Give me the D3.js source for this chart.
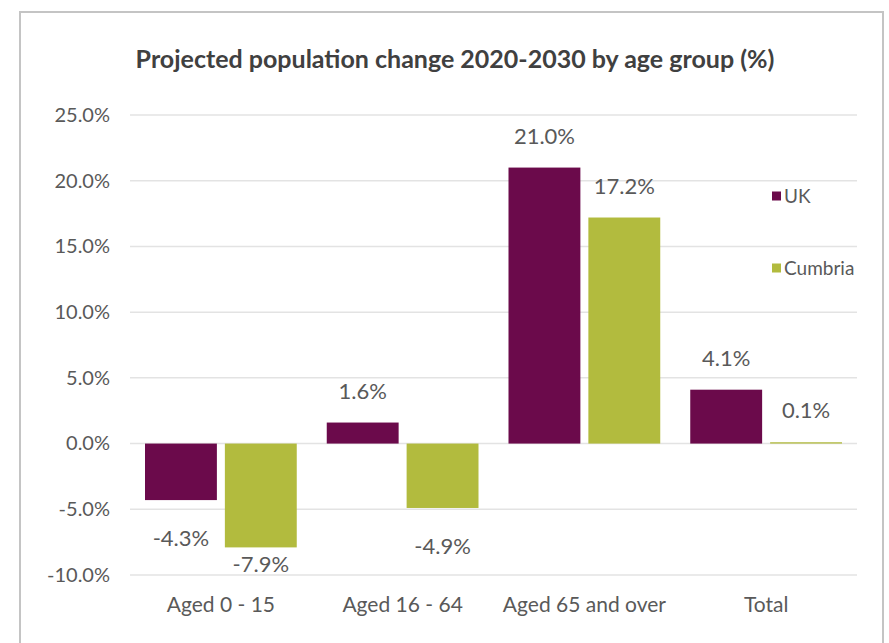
<!DOCTYPE html>
<html>
<head>
<meta charset="utf-8">
<script src="https://cdn.jsdelivr.net/npm/d3@7"></script>
<style>
  body { margin: 0; background: #fff; }
  text { font-family: "Lato", "Open Sans", sans-serif; }
</style>
</head>
<body>
<div id="chart"></div>
<script>
// data
const categories = ["Aged 0 - 15", "Aged 16 - 64", "Aged 65 and over", "Total"];
const seriesNames = ["UK", "Cumbria"];
const ukValues = [-4.3, 1.6, 21.0, 4.1];
const cumbriaValues = [-7.9, -4.9, 17.2, 0.1];
const yTicks = [-10, -5, 0, 5, 10, 15, 20, 25];
const colors = ["#6b0a4b", "#b2bb3e"];

const widthValue = 889;
const heightValue = 643;

const svg = d3.select("#chart")
    .append("svg")
    .attr("width", widthValue)
    .attr("height", heightValue);

// frame around the chart
svg.append("rect")
    .attr("x", 20)
    .attr("y", 12)
    .attr("width", 863)
    .attr("height", 660)
    .attr("fill", "none")
    .attr("stroke", "#c4c4c4")
    .attr("stroke-width", 2);

const margin = { left: 130, right: 857, top: 115, bottom: 575 };

const x = d3.scaleBand()
    .domain(categories)
    .range([margin.left, margin.right]);

const xInner = d3.scaleBand()
    .domain(seriesNames)
    .range([15, x.bandwidth() - 15])
    .paddingInner(0.1);

const y = d3.scaleLinear()
    .domain([-10, 25])
    .range([margin.bottom, margin.top]);

// gridlines
svg.append("g")
    .selectAll("line")
    .data(yTicks)
    .enter()
    .append("line")
    .attr("x1", margin.left)
    .attr("x2", margin.right)
    .attr("y1", d => y(d))
    .attr("y2", d => y(d))
    .attr("stroke", "#e3e3e3")
    .attr("stroke-width", 1.5);

// y axis labels
const yAxis = svg.append("g")
    .attr("transform", `translate(${margin.left - 20},0)`)
    .call(d3.axisLeft(y).tickValues(yTicks).tickSize(0).tickPadding(0).tickFormat(d => d.toFixed(1) + "%"));
yAxis.select(".domain").remove();
yAxis.selectAll("text")
    .attr("font-size", "20px")
    .attr("fill", "#595959")
    .attr("font-family", "Lato, sans-serif");

// x axis labels
const xAxis = svg.append("g")
    .attr("transform", `translate(0,${margin.bottom + 19})`)
    .call(d3.axisBottom(x).tickSize(0));
xAxis.select(".domain").remove();
xAxis.selectAll("text")
    .attr("font-size", "21px")
    .attr("fill", "#595959")
    .attr("font-family", "Lato, sans-serif");

// bars
const table = categories.map((c, i) => ({
    category: c,
    values: [
        { name: "UK", value: ukValues[i] },
        { name: "Cumbria", value: cumbriaValues[i] }
    ]
}));

const groups = svg.append("g")
    .selectAll("g")
    .data(table)
    .enter()
    .append("g")
    .attr("transform", d => `translate(${x(d.category)},0)`);

groups.selectAll("rect")
    .data(d => d.values)
    .enter()
    .append("rect")
    .attr("x", d => xInner(d.name))
    .attr("width", xInner.bandwidth())
    .attr("y", d => y(Math.max(0, d.value)))
    .attr("height", d => Math.abs(y(d.value) - y(0)))
    .attr("fill", (d, i) => colors[i]);

// value labels
groups.selectAll("text")
    .data(d => d.values)
    .enter()
    .append("text")
    .attr("x", d => xInner(d.name) + xInner.bandwidth() / 2)
    .attr("y", d => d.value >= 0
        ? y(d.value) - 24
        : Math.min(y(d.value) + 46, y(-10) - 3))
    .attr("text-anchor", "middle")
    .attr("font-size", "22px")
    .attr("fill", "#595959")
    .text(d => d.value.toFixed(1) + "%");

// title
svg.append("text")
    .attr("x", 455)
    .attr("y", 68)
    .attr("text-anchor", "middle")
    .attr("font-size", "25px")
    .attr("font-weight", "bold")
    .attr("fill", "#404040")
    .text("Projected population change 2020-2030 by age group (%)");

// legend
const legend = svg.append("g")
    .selectAll("g")
    .data(seriesNames)
    .enter()
    .append("g")
    .attr("transform", (d, i) => `translate(772,${196 + i * 72})`);

legend.append("rect")
    .attr("x", 0)
    .attr("y", -4.5)
    .attr("width", 9)
    .attr("height", 9)
    .attr("fill", (d, i) => colors[i]);

legend.append("text")
    .attr("x", 12)
    .attr("y", 7)
    .attr("font-size", "19px")
    .attr("fill", "#595959")
    .text(d => d);
</script>
</body>
</html>
